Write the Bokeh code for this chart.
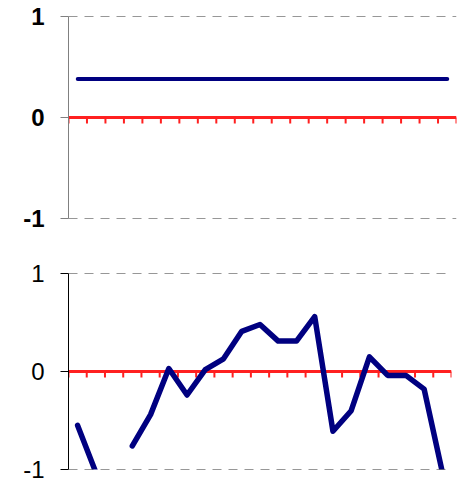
from bokeh.plotting import figure
from bokeh.layouts import column
from bokeh.models import Range1d, FixedTicker, Span
from bokeh.embed import file_html
from bokeh.resources import INLINE
import numpy as np

n_cat = 21
categories = list(range(n_cat))
top_values = [0.38] * n_cat
bottom_values = [-0.55, -1.03, np.nan, -0.76, -0.44, 0.03, -0.24, 0.02, 0.13, 0.41,
                 0.48, 0.31, 0.31, 0.56, -0.61, -0.40, 0.15, -0.04, -0.04, -0.18, -1.03]
y_ticks = [-1, 0, 1]
y_tick_labels = {-1: "-1", 0: "0", 1: "1"}


def make_panel(values, frame_w, frame_h, left, top, bottom, bold, axis_color, lw):
    p = figure(frame_width=frame_w, frame_height=frame_h,
               min_border_left=left, min_border_right=4,
               min_border_top=top, min_border_bottom=bottom,
               x_range=Range1d(0, n_cat), y_range=Range1d(-1, 1),
               x_axis_location=None, toolbar_location=None,
               output_backend="svg", background_fill_color="white",
               border_fill_color="white")
    p.outline_line_color = None
    p.xgrid.visible = False
    p.ygrid.visible = False
    p.yaxis.ticker = FixedTicker(ticks=y_ticks)
    p.yaxis.major_label_overrides = y_tick_labels
    p.yaxis.minor_tick_line_color = None
    p.yaxis.major_tick_in = 0
    p.yaxis.major_tick_out = 8
    p.yaxis.major_tick_line_color = axis_color
    p.yaxis.axis_line_color = axis_color
    p.yaxis.major_label_standoff = 16
    p.yaxis.major_label_text_font = "Liberation Sans"
    p.yaxis.major_label_text_font_size = "24px"
    p.yaxis.major_label_text_font_style = "bold" if bold else "normal"
    p.yaxis.major_label_text_color = "black"

    for loc in (-1, 1):
        p.add_layout(Span(location=loc, dimension="width", line_color="#303030",
                          line_dash="9 7", line_width=1))

    # zero line with category boundary ticks
    tick_len = 6.0 / (frame_h / 2.0)
    bounds = list(range(n_cat + 1))
    p.segment(x0=bounds, y0=[0] * len(bounds), x1=bounds, y1=[-tick_len] * len(bounds),
              line_color="#ff2020", line_width=2)
    p.segment(x0=[0], y0=[0], x1=[n_cat], y1=[0], line_color="#ff2020", line_width=3)

    xs = [c + 0.5 for c in categories]
    p.line(xs, values, line_color="#000080", line_width=lw, line_cap="round", line_join="round")
    return p


p1 = make_panel(top_values, 388, 202, 65, 16, 20, True, "#808080", 4)
p2 = make_panel(bottom_values, 383, 196, 68, 35, 10, False, "black", 5.5)

layout = column(p1, p2, spacing=0)
open("out.html", "w").write(file_html(layout, INLINE))
